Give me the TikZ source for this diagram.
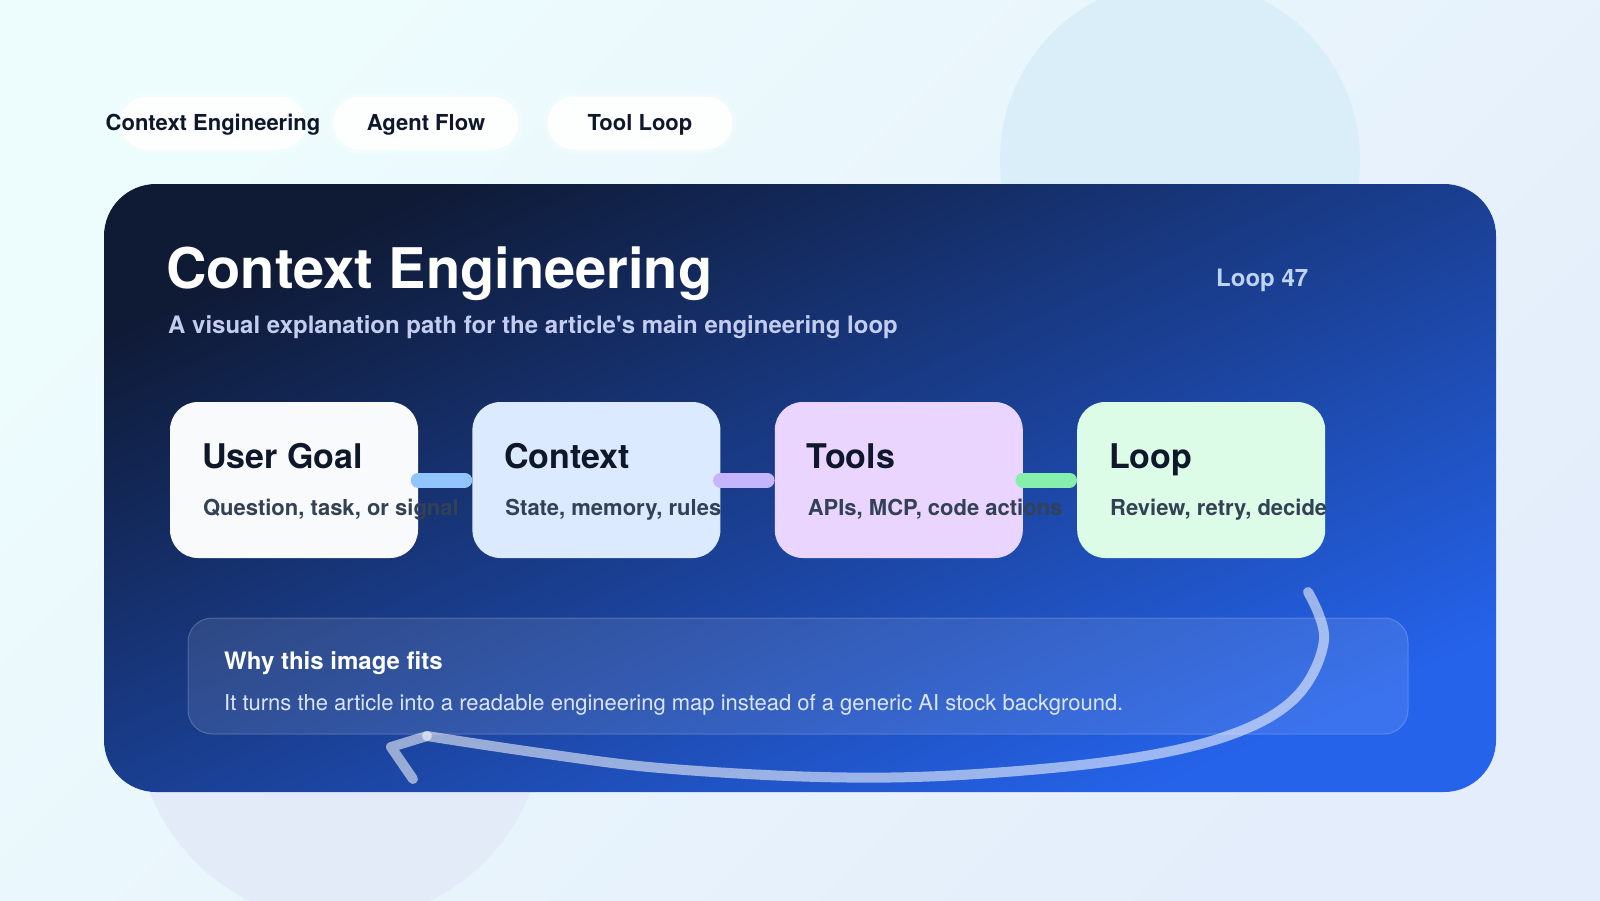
\documentclass[tikz,border=0pt]{standalone}
\usepackage{fontspec}
\setmainfont{TeX Gyre Heros}
\newfontfamily\plainquotes{TeX Gyre Heros}[Ligatures=TeXOff]
\usetikzlibrary{positioning}

\definecolor{bgtl}{HTML}{EDFCFD}
\definecolor{bgbr}{HTML}{E4EDFB}
\definecolor{bubbleA}{HTML}{D9EEF8}
\definecolor{bubbleB}{HTML}{E3EBF9}
\definecolor{navydark}{HTML}{0F1A35}
\definecolor{navy}{HTML}{1E3B8C}
\definecolor{brightblue}{HTML}{2563EB}
\definecolor{ink}{HTML}{0F172A}
\definecolor{slate}{HTML}{334155}
\definecolor{subtle}{HTML}{C3CDF0}
\definecolor{loopnum}{HTML}{BFD3F5}
\definecolor{bodytext}{HTML}{DBE6FB}
\definecolor{goalfill}{HTML}{F8FAFC}
\definecolor{ctxfill}{HTML}{DBEAFE}
\definecolor{toolfill}{HTML}{E9D5FF}
\definecolor{loopfill}{HTML}{DCFCE7}
\definecolor{linkblue}{HTML}{93C5FD}
\definecolor{linkviolet}{HTML}{C4B5FD}
\definecolor{linkgreen}{HTML}{86EFAC}

\tikzset{
    pill/.style={fill=white, fill opacity=0.9, rounded corners=26pt,
        minimum width=185pt, minimum height=53pt, inner sep=0pt},
    pillglow/.style={fill=white, fill opacity=0.25, rounded corners=30pt,
        minimum width=193pt, minimum height=61pt, inner sep=0pt},
    tab/.style={anchor=base, text=ink, inner sep=0pt,
        font=\fontsize{22}{26}\selectfont\bfseries},
    card/.style={rounded corners=28pt, minimum width=248pt,
        minimum height=156pt, inner sep=0pt},
    cardtitle/.style={anchor=base west, text=ink, inner sep=0pt,
        font=\fontsize{34}{40}\selectfont\bfseries},
    cardtext/.style={anchor=base west, text=slate, inner sep=0pt,
        font=\fontsize{22}{26}\selectfont\bfseries},
    link/.style={line width=15pt, line cap=round, shorten >=7.5pt},
    loopline/.style={draw=white, draw opacity=0.55, line width=10pt,
        line cap=round, line join=round}
}

\begin{document}
\begin{tikzpicture}[x=1pt, y=-1pt]

    %========================
    % Background
    %========================
    \useasboundingbox (0,0) rectangle (1600,900);
    \shade[top color=bgtl, bottom color=bgbr, shading angle=45]
        (0,0) rectangle (1600,900);
    \begin{scope}
        \clip (0,0) rectangle (1600,900);
        \fill[bubbleA] (1180,160) circle[radius=180];
        \fill[bubbleB] (340,718) circle[radius=204];
    \end{scope}

    %========================
    % Tabs
    %========================
    \foreach \name/\x in {tabctx/213, tabagent/426, tabtool/640} {
        \node[pillglow] at (\x,123) {};
        \node[pill] (\name) at (\x,123) {};
    }
    \node[tab] at ([yshift=-7pt]tabctx.center) {Context Engineering};
    \node[tab] at ([yshift=-7pt]tabagent.center) {Agent Flow};
    \node[tab] at ([yshift=-7pt]tabtool.center) {Tool Loop};

    %========================
    % Main panel
    %========================
    \shade[rounded corners=52pt, top color=navydark, middle color=navy,
        bottom color=brightblue, shading angle=24]
        (104,184) rectangle (1496,792);

    % Heading
    \node[anchor=base west, text=white, inner sep=0pt,
        font=\fontsize{56}{62}\selectfont\bfseries] (title) at (166,288)
        {Context Engineering};
    \node[anchor=base west, text=subtle, inner sep=0pt,
        font=\plainquotes\fontsize{24}{28}\selectfont\bfseries] (subtitle) at (168,333)
        {A visual explanation path for the article's main engineering loop};
    \node[anchor=base west, text=loopnum, inner sep=0pt,
        font=\fontsize{24}{28}\selectfont\bfseries] (loopnr) at (1216,286)
        {Loop 47};

    %========================
    % Flow cards
    %========================
    \node[card, fill=goalfill] (goal) at (294,480) {};
    \node[card, fill=ctxfill, right=54pt of goal] (ctx) {};
    \node[card, fill=toolfill, right=54pt of ctx] (tools) {};
    \node[card, fill=loopfill, right=54pt of tools] (loop) {};

    \draw[link, linkblue] (goal.east) -- (ctx.west);
    \draw[link, linkviolet] (ctx.east) -- (tools.west);
    \draw[link, linkgreen] (tools.east) -- (loop.west);

    \node[cardtitle] at ([shift={(32,67)}]goal.north west) {User Goal};
    \node[cardtext] at ([shift={(33,114)}]goal.north west) {Question, task, or signal};
    \node[cardtitle] at ([shift={(32,67)}]ctx.north west) {Context};
    \node[cardtext] at ([shift={(33,114)}]ctx.north west) {State, memory, rules};
    \node[cardtitle] at ([shift={(32,67)}]tools.north west) {Tools};
    \node[cardtext] at ([shift={(33,114)}]tools.north west) {APIs, MCP, code actions};
    \node[cardtitle] at ([shift={(32,67)}]loop.north west) {Loop};
    \node[cardtext] at ([shift={(33,114)}]loop.north west) {Review, retry, decide};

    %========================
    % Note box
    %========================
    \node[fill=white, fill opacity=0.1, draw=white, draw opacity=0.2,
        line width=1pt, rounded corners=24pt, minimum width=1220pt,
        minimum height=116pt, inner sep=0pt] (why) at (798,676) {};
    \node[anchor=base west, text=white, inner sep=0pt,
        font=\fontsize{24}{28}\selectfont\bfseries] at (224,669)
        {Why this image fits};
    \node[anchor=base west, text=bodytext, inner sep=0pt,
        font=\fontsize{22}{26}\selectfont] at (224,710)
        {It turns the article into a readable engineering map instead of a generic AI stock background.};

    %========================
    % Return arrow
    %========================
    \coordinate (loopstart) at (1308,592);
    \coordinate (loopend) at (427,736);
    \coordinate (looptip) at (391,747);
    \coordinate (loopbarb) at (413,779);
    \draw[loopline] plot[smooth, tension=0.6] coordinates {
        (loopstart) (1324,640) (1296,697) (1230,735) (1120,760)
        (960,775) (820,777) (660,768) (540,753) (loopend)};
    \draw[loopline] (loopend) -- (looptip) -- (loopbarb);

\end{tikzpicture}
\end{document}
